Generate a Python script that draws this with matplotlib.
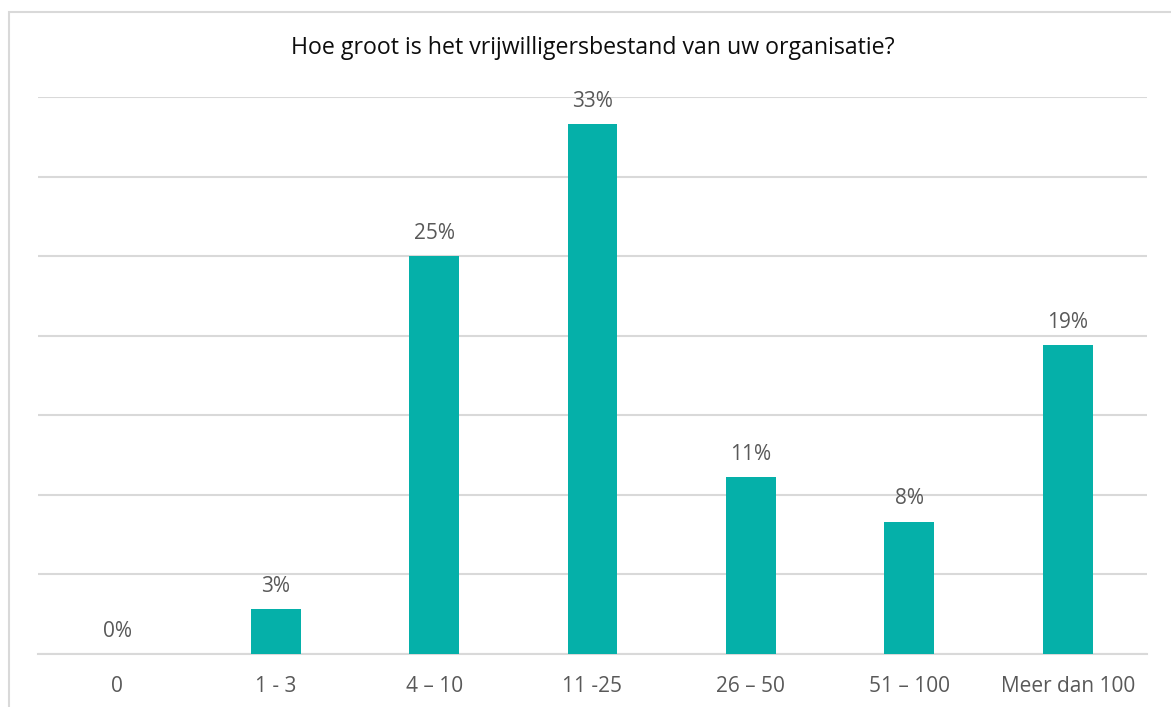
import matplotlib
matplotlib.use("Agg")
import matplotlib.pyplot as plt
from matplotlib.patches import Rectangle

# ==== Data ====
categories = ["0", "1 - 3", "4 – 10", "11 -25", "26 – 50", "51 – 100", "Meer dan 100"]
percentages = [0.0, 2.8, 25.0, 33.3, 11.1, 8.3, 19.4]
title = "Hoe groot is het vrijwilligersbestand van uw organisatie?"

BAR_COLOR = "#05B0A9"
GRID_COLOR = "#D9D9D9"
TEXT_COLOR = "#595959"

plt.rcParams["font.family"] = ["Open Sans", "DejaVu Sans"]

fig = plt.figure(figsize=(11.71, 7.07), dpi=100)
ax = fig.add_axes([38 / 1171, 53 / 707, 1109 / 1171, 557 / 707])

x = range(len(categories))
ax.bar(x, percentages, width=0.315, color=BAR_COLOR, zorder=3)

for xi, v in zip(x, percentages):
    ax.annotate(f"{v:.0f}%", (xi, v), xytext=(0, 16.5), textcoords="offset points",
                ha="center", va="center", fontsize=15, color=TEXT_COLOR)

ax.set_xlim(-0.5, len(categories) - 0.5)
ax.set_ylim(0, 35)
ax.set_yticks(range(0, 36, 5))
ax.set_yticklabels([])
ax.tick_params(axis="y", length=0)
ax.grid(axis="y", color=GRID_COLOR, linewidth=1.5, zorder=0)

ax.set_xticks(list(x))
ax.set_xticklabels(categories, fontsize=15, color=TEXT_COLOR)
ax.tick_params(axis="x", length=0, pad=16)

for side in ["top", "right", "left"]:
    ax.spines[side].set_visible(False)
ax.spines["bottom"].set_color(GRID_COLOR)
ax.spines["bottom"].set_linewidth(1.5)

fig.text((38 + 1147) / 2 / 1171, 1 - 48 / 707, title, ha="center", va="center",
         fontsize=16.7, color="#0D0D0D")

# chart frame (extends past the right and bottom edges)
fig.patches.append(Rectangle((9 / 1171, -0.05), 1.2, 1 - 12 / 707 + 0.05,
                             transform=fig.transFigure, fill=False,
                             edgecolor=GRID_COLOR, linewidth=1.5))

fig.savefig("out.png", dpi=100)
